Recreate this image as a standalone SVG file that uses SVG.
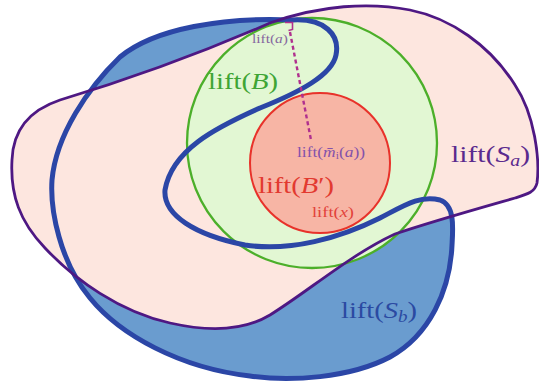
<svg xmlns="http://www.w3.org/2000/svg" xmlns:xlink="http://www.w3.org/1999/xlink" width="539" height="382" viewBox="0 0 539 382">
  <style>
    .lbl { font-family: "Liberation Serif", "DejaVu Serif", serif; }
    .it { font-style: italic; }
    .big { font-size: 24px; }
    .small { font-size: 15px; }
    .outline-b { fill: none; stroke: #2b46a6; stroke-width: 5; stroke-linejoin: round; }
    .outline-a { fill: none; stroke: #4e1883; stroke-width: 2.8; stroke-linejoin: round; }
  </style>
  <defs>
    <!-- lifted region S_b: hooked outline with an S-shaped inner bay -->
    <path id="shape-sb" d="M 292 20 C 325 18, 340 35, 336 55 C 332 75, 300 92, 260 108 C 215 128, 172 150, 165 190 C 163 215, 195 235, 245 245 C 290 252, 340 238, 380 218 C 405 205, 420 195, 440 200 C 455 205, 453 228, 452 245 C 450 290, 430 335, 390 357 C 350 378, 290 382, 250 376 C 180 368, 120 335, 90 298 C 60 262, 50 210, 52 180 C 56 135, 88 88, 120 57 C 155 28, 225 17, 292 20 Z"/>
    <!-- lifted region S_a -->
    <path id="shape-sa" d="M 270 23 C 320 5, 370 2, 410 10 C 450 18, 490 45, 515 85 C 535 115, 540 160, 537 183 C 535 192, 528 194, 515 198 C 480 208, 430 222, 395 234 C 350 255, 310 290, 270 315 C 245 330, 210 332, 170 323 C 120 312, 75 280, 45 248 C 20 222, 10 195, 12 160 C 13 130, 30 110, 60 100 C 110 85, 190 58, 270 23 Z"/>
  </defs>

  <rect width="539" height="382" fill="#ffffff"/>

  <g id="lift-Sb">
    <use xlink:href="#shape-sb" fill="#6a9ccf"/>
  </g>

  <g id="lift-Sa">
    <use xlink:href="#shape-sa" fill="#fde6df"/>
  </g>

  <g id="lift-B">
    <circle cx="312" cy="143" r="125" fill="#e2f7d3" stroke="#4caf2a" stroke-width="2.3"/>
    <text class="lbl big" x="208" y="89" fill="#3fa535" textLength="70" lengthAdjust="spacingAndGlyphs">lift(<tspan class="it">B</tspan>)</text>
  </g>

  <g id="lift-Bprime">
    <circle cx="320" cy="163" r="70" fill="#f7b5a5" stroke="#e8322a" stroke-width="2"/>
    <text class="lbl big" x="258" y="193" fill="#e23a30" textLength="76" lengthAdjust="spacingAndGlyphs">lift(<tspan class="it">B</tspan>′)</text>
  </g>

  <!-- outlines drawn above the disc fills -->
  <g id="outlines">
    <use xlink:href="#shape-sb" class="outline-b"/>
    <use xlink:href="#shape-sa" class="outline-a"/>
  </g>

  <g id="connectors">
    <line x1="290" y1="32" x2="311" y2="140" stroke="#b0308e" stroke-width="2.4" stroke-dasharray="4 3"/>
    <path d="M 285 22.5 L 292.5 22.5 L 292.5 29.5 L 288.5 30.5" fill="none" stroke="#b0308e" stroke-width="1.6"/>
  </g>

  <g id="point-a">
    <text class="lbl" x="252" y="43" font-size="13" fill="#86679f" textLength="36" lengthAdjust="spacingAndGlyphs">lift(<tspan class="it">a</tspan>)</text>
  </g>

  <g id="point-m">
    <text class="lbl small" x="297" y="157" fill="#8352ab" textLength="68" lengthAdjust="spacingAndGlyphs">lift(<tspan class="it">m̄</tspan><tspan font-size="10" dy="2">i</tspan><tspan dy="-2">(</tspan><tspan class="it">a</tspan>))</text>
  </g>

  <g id="point-x">
    <text class="lbl small" x="312" y="217" fill="#e2423a" textLength="42" lengthAdjust="spacingAndGlyphs">lift(<tspan class="it">x</tspan>)</text>
  </g>

  <g id="label-Sa">
    <text class="lbl big" x="451" y="162" fill="#5a2a8e" textLength="79" lengthAdjust="spacingAndGlyphs">lift(<tspan class="it">S</tspan><tspan class="it" font-size="16" dy="4">a</tspan><tspan dy="-4">)</tspan></text>
  </g>

  <g id="label-Sb">
    <text class="lbl big" x="341" y="318" fill="#2b4aa2" textLength="76" lengthAdjust="spacingAndGlyphs">lift(<tspan class="it">S</tspan><tspan class="it" font-size="16" dy="4">b</tspan><tspan dy="-4">)</tspan></text>
  </g>
</svg>
